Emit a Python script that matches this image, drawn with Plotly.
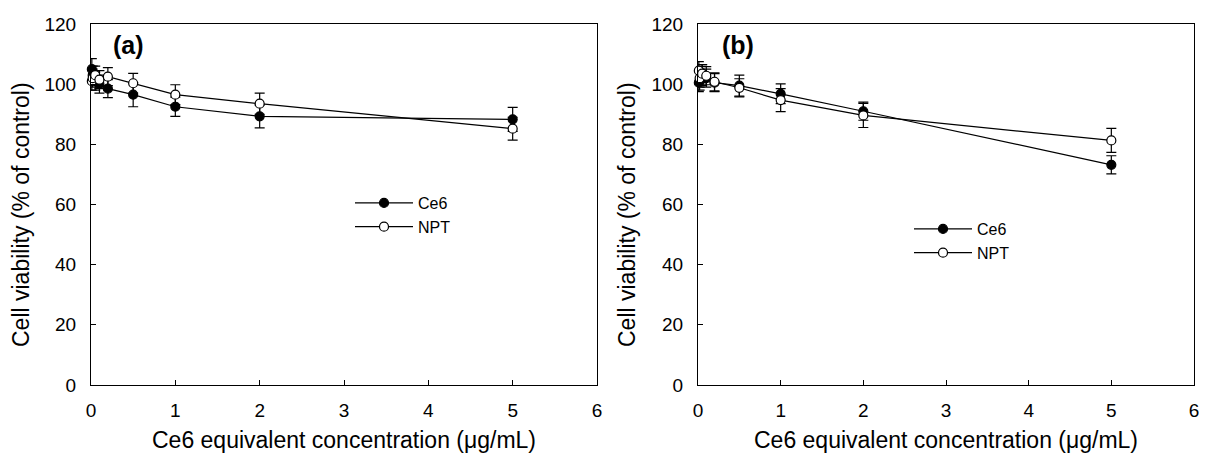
import plotly.graph_objects as go

# concentrations (ug/mL)
conc = [0.01, 0.02, 0.05, 0.1, 0.2, 0.5, 1, 2, 5]

# panel (a)
a_ce6 = [105, 103, 101, 100, 98.5, 96.5, 92.5, 89.3, 88.3]
a_ce6_err = [3.5, 3, 3, 3, 3, 4, 3.2, 3.8, 4]
a_npt = [101, 102, 103, 101.5, 102.5, 100.3, 96.5, 93.5, 85.2]
a_npt_err = [3, 3, 3, 3, 3, 3.3, 3.3, 3.5, 3.8]

# panel (b)
b_ce6 = [100.5, 101, 103, 102, 100.5, 99.5, 96.8, 91, 73.2]
b_ce6_err = [3, 3, 3.5, 3, 3, 3.5, 3.3, 3, 3]
b_npt = [104.5, 102, 103.5, 102.8, 100.8, 98.8, 94.7, 89.6, 81.3]
b_npt_err = [3, 3, 3, 3, 3, 3, 3.8, 4, 4]

xticks = [0, 1, 2, 3, 4, 5, 6]
yticks = [0, 20, 40, 60, 80, 100, 120]

# page body has an 8px margin, so the figure is drawn 8px in from the corner
OFF = 8
W, H = 1207 - 2 * OFF, 457 - OFF
FONT = "Arial, Liberation Sans, sans-serif"

fig = go.Figure()

def add_series(y, err, name, filled, xa, ya, legend):
    fig.add_trace(go.Scatter(
        x=conc, y=y, name=name, mode="lines+markers",
        xaxis=xa, yaxis=ya, legend=legend,
        line=dict(color="black", width=1.2),
        marker=dict(symbol="circle", size=9,
                    color="black" if filled else "white",
                    line=dict(color="black", width=1.2)),
        error_y=dict(type="data", array=err, color="black",
                     thickness=1.2, width=5),
        cliponaxis=False,
    ))

add_series(a_ce6, a_ce6_err, "Ce6", True, "x", "y", "legend")
add_series(a_npt, a_npt_err, "NPT", False, "x", "y", "legend")
add_series(b_ce6, b_ce6_err, "Ce6", True, "x2", "y2", "legend2")
add_series(b_npt, b_npt_err, "NPT", False, "x2", "y2", "legend2")

# screen pixel -> paper fraction
def px_x(p):
    return (p - OFF) / W

def px_y(p):
    return 1 - (p - OFF) / H

ydom = [px_y(385), px_y(24)]
axis_common = dict(
    showgrid=False, zeroline=False, showline=True, linecolor="black",
    linewidth=1, mirror=True, ticks="inside", ticklen=5, tickcolor="black",
    automargin=False, ticklabeloverflow="allow",
    tickfont=dict(family=FONT, size=19, color="black"),
)

fig.update_layout(
    width=W, height=H,
    margin=dict(l=0, r=0, t=0, b=0, autoexpand=False),
    paper_bgcolor="white", plot_bgcolor="white",
    font=dict(family=FONT, color="black"),
    xaxis=dict(domain=[px_x(91), px_x(597)], range=[0, 6], tickvals=xticks,
               anchor="y", ticklabelstandoff=8, **axis_common),
    yaxis=dict(domain=ydom, range=[0, 120], tickvals=yticks, anchor="x",
               ticklabelstandoff=10, **axis_common),
    xaxis2=dict(domain=[px_x(698), px_x(1194)], range=[0, 6], tickvals=xticks,
                anchor="y2", ticklabelstandoff=8, **axis_common),
    yaxis2=dict(domain=ydom, range=[0, 120], tickvals=yticks, anchor="x2",
                ticklabelstandoff=10, **axis_common),
    legend=dict(x=px_x(350), y=px_y(186), xanchor="left", yanchor="top",
                bgcolor="rgba(0,0,0,0)", font=dict(family=FONT, size=16),
                tracegroupgap=0, itemwidth=58),
    legend2=dict(x=px_x(909), y=px_y(212), xanchor="left", yanchor="top",
                 bgcolor="rgba(0,0,0,0)", font=dict(family=FONT, size=16),
                 tracegroupgap=0, itemwidth=58),
    showlegend=True,
)

ann = []
for lbl, xp in [("(a)", 111), ("(b)", 720)]:
    ann.append(dict(text="<b>" + lbl + "</b>", x=px_x(xp), y=px_y(45),
                    xref="paper", yref="paper", xanchor="left", yanchor="middle",
                    showarrow=False, font=dict(family=FONT, size=25)))
for xc in [344, 946]:
    ann.append(dict(text="Ce6 equivalent concentration (\u03bcg/mL)",
                    x=px_x(xc), y=px_y(440), xref="paper", yref="paper",
                    xanchor="center", yanchor="middle", showarrow=False,
                    font=dict(family=FONT, size=23)))
for xc in [21, 627]:
    ann.append(dict(text="Cell viability (% of control)",
                    x=px_x(xc), y=px_y(215), xref="paper", yref="paper",
                    xanchor="center", yanchor="middle", showarrow=False,
                    textangle=-90, font=dict(family=FONT, size=23)))
fig.update_layout(annotations=ann)

fig.write_html("out.html")
